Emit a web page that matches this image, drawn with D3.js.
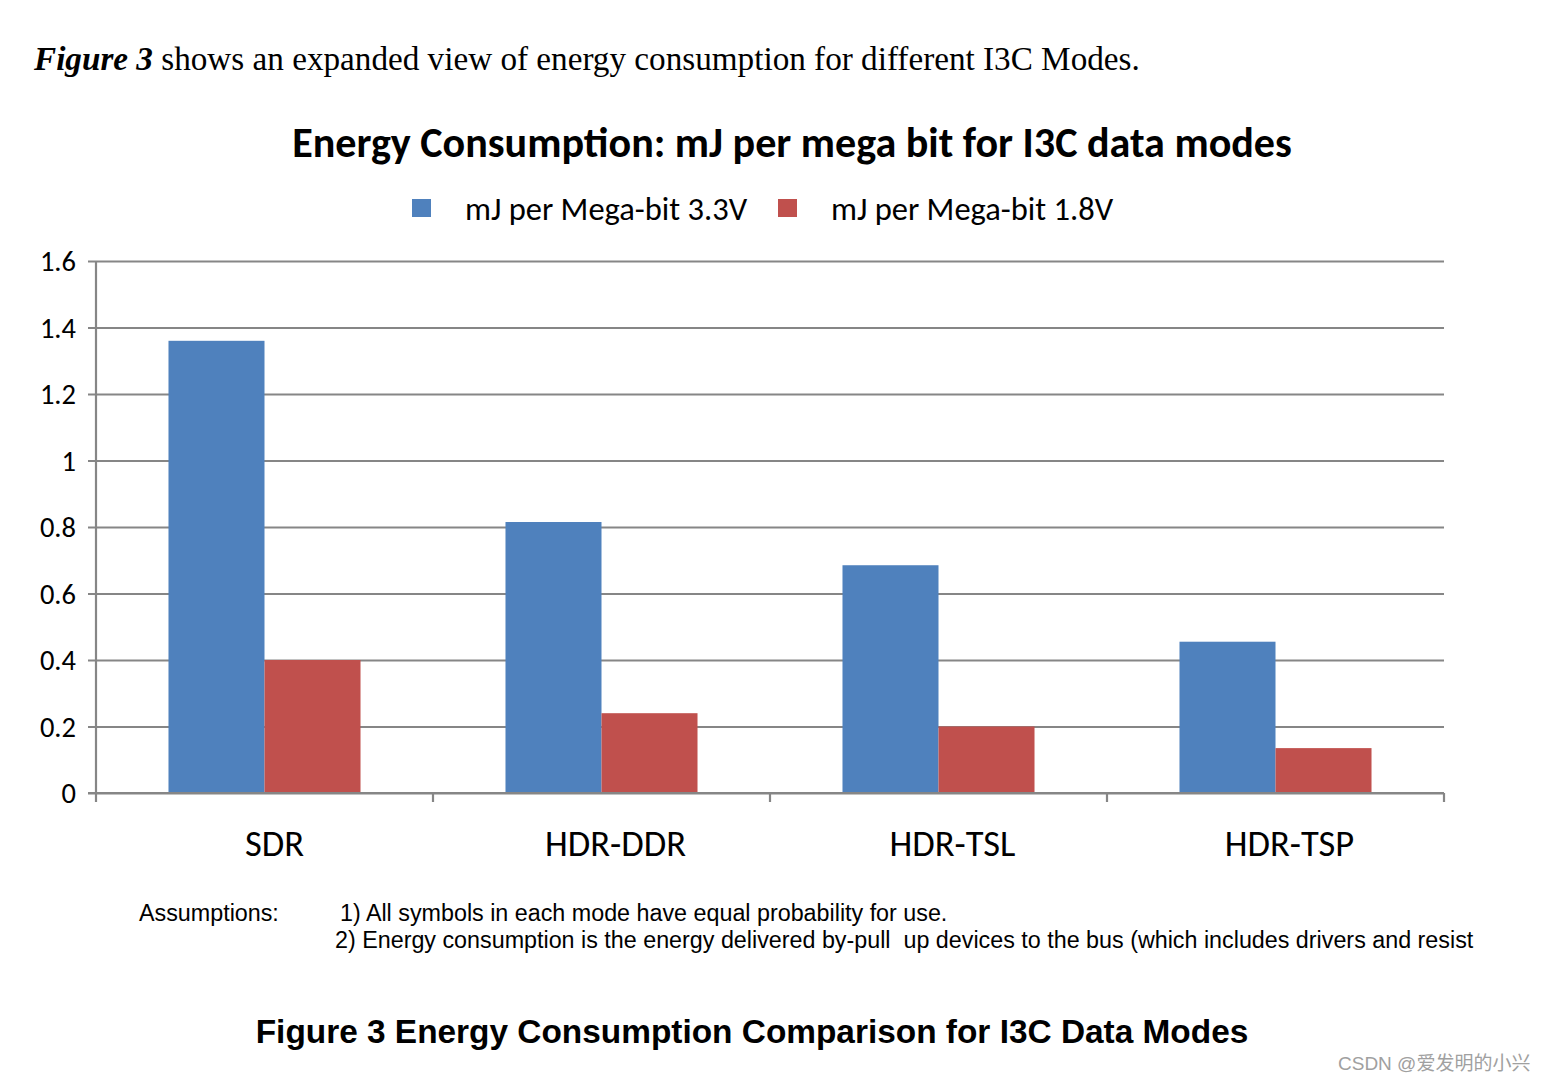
<!DOCTYPE html>
<html><head><meta charset="utf-8">
<script src="https://cdn.jsdelivr.net/npm/d3@7"></script>
<style>
html,body{margin:0;padding:0;background:#fff;}
svg{display:block;}
</style></head>
<body>
<svg id="chart" width="1545" height="1084"></svg>
<script>
const categories = ["SDR", "HDR-DDR", "HDR-TSL", "HDR-TSP"];
const seriesNames = ["mJ per Mega-bit 3.3V", "mJ per Mega-bit 1.8V"];
const values33 = [1.36, 0.815, 0.685, 0.455];
const values18 = [0.40, 0.24, 0.20, 0.135];
const yTicks = [0, 0.2, 0.4, 0.6, 0.8, 1, 1.2, 1.4, 1.6];
const colors = ["#4F81BD", "#C0504D"];

const svg = d3.select("#chart");
const calibri = "Carlito, Lato, 'Open Sans', sans-serif";
const gridColor = "#868686";

// intro text
const intro = svg.append("text").attr("x", 34).attr("y", 70)
  .attr("font-family", "'Liberation Serif','Times New Roman',serif").attr("font-size", 33.2).attr("fill", "#000");
intro.append("tspan").attr("font-weight", "bold").attr("font-style", "italic").text("Figure 3");
intro.append("tspan").text(" shows an expanded view of energy consumption for different I3C Modes.");

// title
svg.append("text").attr("x", 792).attr("y", 157).attr("text-anchor", "middle")
  .attr("font-family", calibri).attr("font-weight", "bold").attr("font-size", 42.1).attr("fill", "#000")
  .text("Energy Consumption: mJ per mega bit for I3C data modes");

// legend
const legendX = [412, 778];
seriesNames.forEach((n, i) => {
  svg.append("rect").attr("x", legendX[i]).attr("y", 199).attr("width", 19).attr("height", 18).attr("fill", colors[i]);
  svg.append("text").attr("x", legendX[i] + 53).attr("y", 220)
    .attr("font-family", calibri).attr("font-size", 32.5).attr("fill", "#000").text(n);
});

const x0 = d3.scaleBand().domain(categories).range([96, 1444]).padding(0);
const x1 = d3.scaleBand().domain([0, 1]).range([0, x0.bandwidth()]).paddingOuter(0.755).paddingInner(0);
const y = d3.scaleLinear().domain([0, 1.6]).range([793, 261]);

// gridlines
const gridAxis = d3.axisLeft(y).tickValues(yTicks).tickSize(-(1444 - 88)).tickFormat(d => d3.format("")(d));
const gy = svg.append("g").attr("transform", "translate(88,0)").call(gridAxis);
gy.select(".domain").remove();
gy.selectAll(".tick line").attr("stroke", gridColor).attr("stroke-width", 2.2);
gy.selectAll(".tick text").attr("x", -12).attr("dy", "0.34em")
  .attr("font-family", calibri).attr("font-size", 28.5).attr("fill", "#000");

// bars
const data = categories.map((c, i) => ({c, v: [values33[i], values18[i]]}));
const groups = svg.append("g").selectAll("g").data(data).join("g")
  .attr("transform", d => `translate(${x0(d.c)},0)`);
groups.selectAll("rect").data(d => d.v.map((v, k) => ({v, k}))).join("rect")
  .attr("x", d => x1(d.k)).attr("width", x1.bandwidth())
  .attr("y", d => y(d.v)).attr("height", d => y(0) - y(d.v))
  .attr("fill", d => colors[d.k]);

// y axis line
svg.append("line").attr("x1", 96).attr("x2", 96).attr("y1", 261).attr("y2", 802)
  .attr("stroke", gridColor).attr("stroke-width", 2.2);

// x axis
const xAxis = d3.axisBottom(x0).tickSize(0).tickSizeOuter(0);
const gx = svg.append("g").attr("transform", "translate(0,793)").call(xAxis);
gx.select(".domain").remove();
svg.append("line").attr("x1", 88).attr("x2", 1444).attr("y1", 793).attr("y2", 793)
  .attr("stroke", gridColor).attr("stroke-width", 2.2);
// category separators
const seps = categories.map(c => x0(c) + x0.bandwidth());
svg.append("g").selectAll("line").data(seps).join("line")
  .attr("x1", d => d).attr("x2", d => d).attr("y1", 793).attr("y2", 802)
  .attr("stroke", gridColor).attr("stroke-width", 2.2);
gx.selectAll(".tick text").attr("y", 0).attr("dy", 63).attr("dx", (d, i) => i === 0 ? 10 : 14)
  .attr("font-family", calibri).attr("font-size", 36.5).attr("fill", "#000");

// footnotes
const foot = "'Liberation Sans', Arial, sans-serif";
svg.append("text").attr("x", 139).attr("y", 921).attr("font-family", foot).attr("font-size", 23.3).text("Assumptions:");
svg.append("text").attr("x", 340).attr("y", 921).attr("font-family", foot).attr("font-size", 23.3)
  .text("1) All symbols in each mode have equal probability for use.");
svg.append("text").attr("x", 335).attr("y", 948).attr("font-family", foot).attr("font-size", 23.3)
  .attr("xml:space", "preserve")
  .text("2) Energy consumption is the energy delivered by\u2011pull  up devices to the bus (which includes drivers and resist");

// caption
svg.append("text").attr("x", 752).attr("y", 1043).attr("text-anchor", "middle")
  .attr("font-family", foot).attr("font-weight", "bold").attr("font-size", 33.4).text("Figure 3 Energy Consumption Comparison for I3C Data Modes");

// watermark
svg.append("text").attr("x", 1338).attr("y", 1070)
  .attr("font-family", "'Liberation Sans', 'Noto Sans CJK SC', sans-serif").attr("font-size", 19).attr("fill", "#a0a0a0")
  .text("CSDN @爱发明的小兴");
</script>
</body></html>
